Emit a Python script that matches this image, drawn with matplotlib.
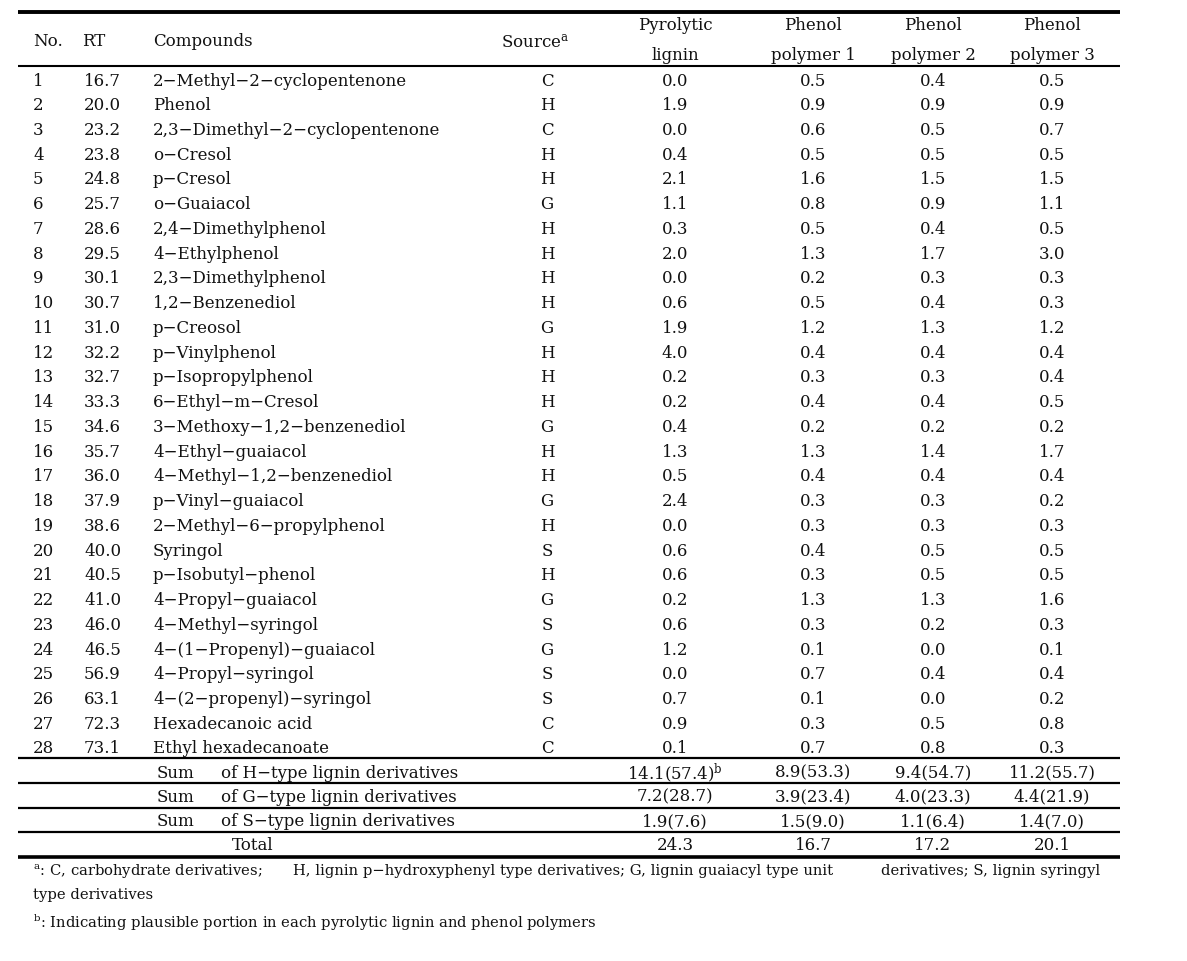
import matplotlib
matplotlib.use("Agg")
import matplotlib.pyplot as plt

plt.rcParams['font.family'] = ['DejaVu Serif']
plt.rcParams['mathtext.fontset'] = 'dejavuserif'

# ---- data ----
numbers = list(range(1, 29))
rt = [16.7, 20.0, 23.2, 23.8, 24.8, 25.7, 28.6, 29.5, 30.1, 30.7, 31.0, 32.2, 32.7, 33.3,
      34.6, 35.7, 36.0, 37.9, 38.6, 40.0, 40.5, 41.0, 46.0, 46.5, 56.9, 63.1, 72.3, 73.1]
compounds = ["2−Methyl−2−cyclopentenone", "Phenol", "2,3−Dimethyl−2−cyclopentenone",
             "o−Cresol", "p−Cresol", "o−Guaiacol", "2,4−Dimethylphenol", "4−Ethylphenol",
             "2,3−Dimethylphenol", "1,2−Benzenediol", "p−Creosol", "p−Vinylphenol",
             "p−Isopropylphenol", "6−Ethyl−m−Cresol", "3−Methoxy−1,2−benzenediol",
             "4−Ethyl−guaiacol", "4−Methyl−1,2−benzenediol", "p−Vinyl−guaiacol",
             "2−Methyl−6−propylphenol", "Syringol", "p−Isobutyl−phenol", "4−Propyl−guaiacol",
             "4−Methyl−syringol", "4−(1−Propenyl)−guaiacol", "4−Propyl−syringol",
             "4−(2−propenyl)−syringol", "Hexadecanoic acid", "Ethyl hexadecanoate"]
source = ["C", "H", "C", "H", "H", "G", "H", "H", "H", "H", "G", "H", "H", "H",
          "G", "H", "H", "G", "H", "S", "H", "G", "S", "G", "S", "S", "C", "C"]
pyrolytic_lignin = [0.0, 1.9, 0.0, 0.4, 2.1, 1.1, 0.3, 2.0, 0.0, 0.6, 1.9, 4.0, 0.2, 0.2,
                    0.4, 1.3, 0.5, 2.4, 0.0, 0.6, 0.6, 0.2, 0.6, 1.2, 0.0, 0.7, 0.9, 0.1]
phenol_polymer_1 = [0.5, 0.9, 0.6, 0.5, 1.6, 0.8, 0.5, 1.3, 0.2, 0.5, 1.2, 0.4, 0.3, 0.4,
                    0.2, 1.3, 0.4, 0.3, 0.3, 0.4, 0.3, 1.3, 0.3, 0.1, 0.7, 0.1, 0.3, 0.7]
phenol_polymer_2 = [0.4, 0.9, 0.5, 0.5, 1.5, 0.9, 0.4, 1.7, 0.3, 0.4, 1.3, 0.4, 0.3, 0.4,
                    0.2, 1.4, 0.4, 0.3, 0.3, 0.5, 0.5, 1.3, 0.2, 0.0, 0.4, 0.0, 0.5, 0.8]
phenol_polymer_3 = [0.5, 0.9, 0.7, 0.5, 1.5, 1.1, 0.5, 3.0, 0.3, 0.3, 1.2, 0.4, 0.4, 0.5,
                    0.2, 1.7, 0.4, 0.2, 0.3, 0.5, 0.5, 1.6, 0.3, 0.1, 0.4, 0.2, 0.8, 0.3]
sample_headers = [("Pyrolytic", "lignin"), ("Phenol", "polymer 1"),
                  ("Phenol", "polymer 2"), ("Phenol", "polymer 3")]
sum_labels = ["of H−type lignin derivatives", "of G−type lignin derivatives",
              "of S−type lignin derivatives"]
sum_values = [[14.1, 8.9, 9.4, 11.2], [7.2, 3.9, 4.0, 4.4], [1.9, 1.5, 1.1, 1.4]]
sum_percent = [[57.4, 53.3, 54.7, 55.7], [28.7, 23.4, 23.3, 21.9], [7.6, 9.0, 6.4, 7.0]]
totals = [24.3, 16.7, 17.2, 20.1]

# ---- layout ----
W, H = 1187, 961
fig = plt.figure(figsize=(W / 100, H / 100), dpi=100)
ax = fig.add_axes([0, 0, 1, 1])
ax.set_xlim(0, W)
ax.set_ylim(H, 0)
ax.axis('off')

fs = 12
fs_note = 10.6
x_left, x_right = 18, 1120
x_no, x_rt, x_comp, x_src = 33, 84, 153, 547
x_cols = [675, 813, 933, 1052]
y_row0, dy = 79, 24.74

def txt(x, y, s, ha='left', size=fs):
    ax.text(x, y, s, ha=ha, va='center_baseline', fontsize=size, color='#111111')

def hline(y, lw):
    ax.plot([x_left, x_right], [y, y], color='black', lw=lw, solid_capstyle='butt')

hline(12, 2.8)
hline(66, 1.5)

# header
txt(x_no, 40, "No.")
txt(82, 40, "RT")
txt(x_comp, 40, "Compounds")
txt(535, 40, "Source$^{\\mathrm{a}}$", ha='center')
for x, (l1, l2) in zip(x_cols, sample_headers):
    txt(x, 24, l1, ha='center')
    txt(x, 54, l2, ha='center')

# body
samples = [pyrolytic_lignin, phenol_polymer_1, phenol_polymer_2, phenol_polymer_3]
for i in range(len(numbers)):
    y = y_row0 + i * dy
    txt(x_no, y, str(numbers[i]))
    txt(x_rt, y, f"{rt[i]:.1f}")
    txt(x_comp, y, compounds[i])
    txt(x_src, y, source[i], ha='center')
    for x, col in zip(x_cols, samples):
        txt(x, y, f"{col[i]:.1f}", ha='center')

# sums
hline(758, 1.6)
sum_y = [771, 795, 820]
line_y = [783, 808, 832]
for k in range(3):
    txt(157, sum_y[k], "Sum")
    txt(221, sum_y[k], sum_labels[k])
    for j, x in enumerate(x_cols):
        s = f"{sum_values[k][j]:.1f}({sum_percent[k][j]:.1f})"
        if k == 0 and j == 0:
            s += "$^{\\mathrm{b}}$"
        txt(x, sum_y[k], s, ha='center')
    hline(line_y[k], 1.6)
txt(253, 844, "Total", ha='center')
for j, x in enumerate(x_cols):
    txt(x, 844, f"{totals[j]:.1f}", ha='center')
hline(857, 2.6)

# footnotes
txt(33, 869, "$^{\\mathrm{a}}$: C, carbohydrate derivatives;", size=fs_note)
txt(293, 869, "H, lignin p−hydroxyphenyl type derivatives; G, lignin guaiacyl type unit", size=fs_note)
txt(881, 869, "derivatives; S, lignin syringyl", size=fs_note)
txt(33, 894, "type derivatives", size=fs_note)
txt(33, 920, "$^{\\mathrm{b}}$: Indicating plausible portion in each pyrolytic lignin and phenol polymers", size=fs_note)

fig.savefig("out.png", dpi=100)
